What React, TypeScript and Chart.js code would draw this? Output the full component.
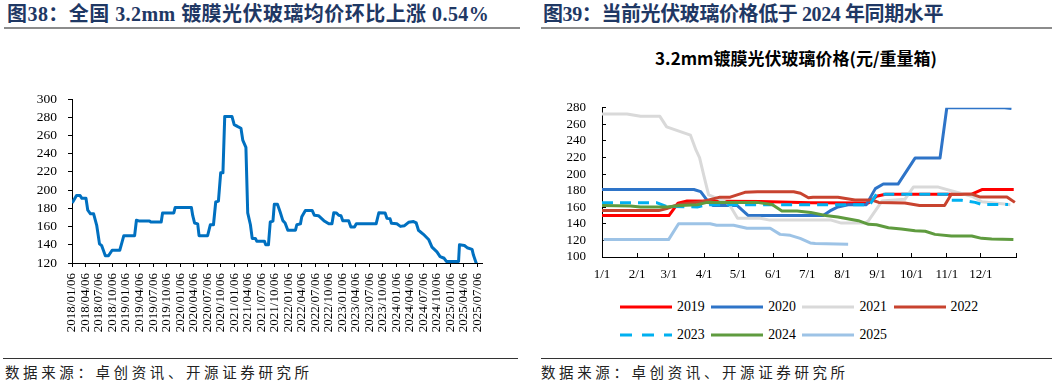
import React, { useEffect, useRef } from "react";
import { Chart, registerables } from "chart.js";

Chart.register(...registerables);

// ---------- Left chart: national avg price of 3.2mm coated PV glass ----------
// x = months elapsed since 2018/01/06
const histMonths = [
  0, 0.3, 1.0, 1.8, 2.2, 3.1, 3.5, 4.1, 4.8, 5.5, 6.1, 6.6, 7.4, 8.1, 8.9, 10.6, 11.0, 11.5, 13.9, 14.3,
  15.0, 17.2, 17.5, 19.8, 20.1, 22.6, 22.9, 26.5, 26.8, 27.2, 27.9, 28.2, 30.1, 30.7, 31.4, 31.9, 32.5, 33.0, 33.5, 33.9,
  35.5, 36.0, 36.7, 37.5, 37.9, 38.6, 39.0, 39.6, 40.0, 40.7, 41.0, 42.7, 43.0, 43.6, 44.0, 44.6, 44.9, 45.6, 46.2, 46.8,
  47.3, 47.9, 49.6, 49.9, 50.7, 51.0, 51.8, 53.3, 53.8, 54.7, 55.9, 57.0, 57.7, 58.1, 58.7, 59.2, 59.7, 60.1, 61.4, 61.9,
  62.7, 63.1, 67.5, 68.1, 69.5, 69.9, 70.6, 70.9, 72.1, 72.9, 73.8, 74.7, 75.8, 76.4, 76.9, 78.0, 79.2, 79.9, 81.0, 81.7,
  82.6, 83.1, 85.8, 86.0, 87.1, 87.7, 88.8, 89.1, 89.7, 90.2,
];
const histPrices = [
  186, 188, 194, 194, 191, 191, 178, 174, 174, 161, 141, 139, 128, 128, 134, 134, 141, 150, 150, 167,
  166, 166, 165, 165, 175, 175, 181, 181, 172, 164, 163, 150, 150, 162, 162, 187, 188, 219, 219, 281,
  281, 272, 270, 268, 255, 247, 175, 162, 147, 147, 144, 144, 140, 140, 165, 166, 184.5, 184.5, 176, 166.5,
  164, 156, 156, 162, 163, 170.7, 177.7, 177.7, 172.4, 172, 166.5, 163, 163, 175.2, 175, 172.4, 172, 166.5, 166.5, 159.5,
  159.5, 163, 163, 175.2, 175, 169, 168.5, 163.7, 163, 160.2, 161, 164.7, 165.5, 164, 156, 151.5, 145.5, 137.5, 132.2, 127,
  125.2, 121.7, 121.7, 140, 139.2, 136.8, 135, 128.7, 120, 116,
];
const histTickMonths = [
  0, 3, 6, 9, 12, 15, 18, 21, 24, 27, 30, 33, 36, 39, 42, 45, 48, 51, 54, 57, 60, 63, 66, 69, 72, 75, 78, 81, 84, 87, 90,
];
const histTickLabels = [
  "2018/01/06", "2018/04/06", "2018/07/06", "2018/10/06",
  "2019/01/06", "2019/04/06", "2019/07/06", "2019/10/06",
  "2020/01/06", "2020/04/06", "2020/07/06", "2020/10/06",
  "2021/01/06", "2021/04/06", "2021/07/06", "2021/10/06",
  "2022/01/06", "2022/04/06", "2022/07/06", "2022/10/06",
  "2023/01/06", "2023/04/06", "2023/07/06", "2023/10/06",
  "2024/01/06", "2024/04/06", "2024/07/06", "2024/10/06",
  "2025/01/06", "2025/04/06", "2025/07/06",
];

// ---------- Right chart: seasonal comparison (x = day of year) ----------
const monthStartDays = [0, 31, 59, 90, 120, 151, 181, 212, 243, 273, 304, 334, 365];
const monthTickLabels = ["1/1", "2/1", "3/1", "4/1", "5/1", "6/1", "7/1", "8/1", "9/1", "10/1", "11/1", "12/1", ""];

const years = ["2019", "2020", "2021", "2022", "2023", "2024", "2025"];

const days2019 = [0, 59, 67, 75, 140, 184, 235, 242, 250, 326, 335, 363];
const price2019 = [150, 150, 165, 167.5, 167, 165.5, 165.2, 173.3, 175.8, 175.8, 181.4, 181.4];

const days2020 = [0, 81, 87, 94, 98, 119, 129, 195, 201, 208, 217, 233, 241, 248, 261, 276, 298, 304, 355, 361];
const price2020 = [181.4, 181.4, 178.8, 166, 162.2, 162.2, 150, 150, 155.6, 160.4, 163, 163, 182.5, 188, 188, 219.3, 219.3, 280, 280, 279];

const days2021 = [0, 22, 34, 51, 57, 78, 83, 86, 90, 94, 104, 112, 119.5, 139.5, 148, 202, 211, 232, 235, 247, 267, 274.5, 296.6, 311, 326, 335, 355, 360];
const price2021 = [272.6, 272.6, 269.7, 269.7, 257, 247, 228.6, 220, 197, 175, 169.6, 164, 146.8, 146.8, 144.5, 144.5, 140.9, 140.9, 143.8, 167.7, 169.6, 184.3, 184.3, 178.8, 173.3, 166.6, 164, 163];

const days2022 = [0, 50, 57, 67.5, 88, 104, 113, 126, 137, 169, 175, 182, 186, 208, 223, 238, 244, 267, 280, 302, 308, 326, 333, 357, 364];
const price2022 = [156, 156, 158.5, 163.3, 166.6, 172.2, 172.2, 178, 178.8, 178.8, 177, 171.4, 172.2, 172.2, 168.8, 168.8, 165.9, 165.2, 162.2, 162.2, 175.8, 175.8, 172.5, 172.5, 165.9];

const days2023 = [0, 48, 57, 84, 92.5, 236, 242, 305, 308, 317, 329, 335, 358];
const price2023 = [165.5, 165.5, 161, 160.4, 163, 163, 175.8, 175.8, 168.5, 168.5, 165.9, 163.3, 163.3];

const days2024 = [0, 25, 34, 57, 69, 84, 92.5, 136.6, 150, 158.6, 172, 184, 197, 208, 226, 235, 242, 252.5, 264, 276, 285, 293.6, 308, 326, 334.7, 343.6, 362.7];
const price2024 = [162.2, 161.5, 160.4, 160.4, 162.2, 163, 165.9, 165.9, 163.3, 155.6, 155.6, 153.8, 150, 148.2, 143.8, 139.4, 139, 135.3, 133.9, 131.7, 131, 127.3, 125.4, 125.4, 122.5, 121.7, 121];

const days2025 = [1.5, 58.7, 67.5, 95.4, 101, 116, 127.8, 148.3, 157, 166, 174.7, 183.6, 188, 217];
const price2025 = [121, 121, 140.1, 140.1, 138.3, 138.3, 134.6, 134.6, 127.3, 126.1, 122.5, 117, 116.2, 115.5];

const yearDays = [days2019, days2020, days2021, days2022, days2023, days2024, days2025];
const yearPrices = [price2019, price2020, price2021, price2022, price2023, price2024, price2025];

const yearColors = ["#FF0000", "#2E74C8", "#D9D9D9", "#C8432F", "#00B0F0", "#5F9B3F", "#9DC3E6"];
const yearDash: number[][] = [[], [], [], [], [11, 7], [], []];

const SERIF = "'Times New Roman', 'Liberation Serif', serif";
const CJK = "'Noto Sans CJK SC', sans-serif";
const TITLE_FONT = "'Times New Roman', 'Liberation Serif', 'Noto Sans CJK SC', serif";

function LeftChart() {
  const ref = useRef<HTMLCanvasElement>(null);
  useEffect(() => {
    if (!ref.current) return;
    const chart = new Chart(ref.current, {
      type: "line",
      data: {
        datasets: [
          {
            data: histMonths.map((m, i) => ({ x: m, y: histPrices[i] })),
            borderColor: "#0070C0",
            borderWidth: 3,
            pointRadius: 0,
            tension: 0,
            fill: false,
            borderJoinStyle: "round",
          },
        ],
      },
      options: {
        animation: false,
        responsive: false,
        plugins: { legend: { display: false }, tooltip: { enabled: false } },
        layout: { padding: { top: 12, right: 48, bottom: 0, left: 0 } },
        scales: {
          x: {
            type: "linear",
            min: 0,
            max: 91,
            afterBuildTicks: (s: any) => {
              s.ticks = histTickMonths.map((v) => ({ value: v }));
            },
            afterFit: (s: any) => {
              s.height = 82;
            },
            ticks: {
              autoSkip: false,
              minRotation: 90,
              maxRotation: 90,
              padding: 6,
              color: "#000",
              font: { family: SERIF, size: 13 },
              callback: (_v: any, i: number) => histTickLabels[i],
            },
            grid: { drawOnChartArea: false, drawTicks: true, tickLength: 4, color: "#000" },
            border: { color: "#000", width: 1 },
          },
          y: {
            min: 120,
            max: 300,
            afterFit: (s: any) => {
              s.width = 72;
            },
            ticks: {
              stepSize: 20,
              autoSkip: false,
              padding: 11,
              color: "#000",
              font: { family: SERIF, size: 13.5 },
            },
            grid: { drawOnChartArea: false, drawTicks: true, tickLength: 4, color: "#000" },
            border: { color: "#000", width: 1 },
          },
        },
      },
    } as any);
    return () => chart.destroy();
  }, []);
  return (
    <canvas
      ref={ref}
      width={530}
      height={265}
      style={{ position: "absolute", left: 0, top: 80, width: 530, height: 265 }}
    />
  );
}

function RightChart() {
  const ref = useRef<HTMLCanvasElement>(null);
  useEffect(() => {
    if (!ref.current) return;
    const chart = new Chart(ref.current, {
      type: "line",
      data: {
        datasets: years.map((y, i) => ({
          label: y,
          data: yearDays[i].map((d, j) => ({ x: d, y: yearPrices[i][j] })),
          borderColor: yearColors[i],
          borderWidth: 3,
          borderDash: yearDash[i],
          pointRadius: 0,
          tension: 0,
          fill: false,
          borderJoinStyle: "round",
          order: years.length - i,
        })),
      },
      options: {
        animation: false,
        responsive: false,
        plugins: { legend: { display: false }, tooltip: { enabled: false } },
        layout: { padding: { top: 13, right: 24, bottom: 0, left: 0 } },
        scales: {
          x: {
            type: "linear",
            min: 0,
            max: 365,
            afterBuildTicks: (s: any) => {
              s.ticks = monthStartDays.map((v) => ({ value: v }));
            },
            afterFit: (s: any) => {
              s.height = 33;
            },
            ticks: {
              autoSkip: false,
              maxRotation: 0,
              minRotation: 0,
              padding: 14,
              color: "#000",
              font: { family: SERIF, size: 13 },
              callback: (_v: any, i: number) => monthTickLabels[i],
            },
            grid: { drawOnChartArea: false, drawTicks: true, tickLength: -4, color: "#000" },
            border: { color: "#000", width: 1 },
          },
          y: {
            min: 100,
            max: 280,
            afterFit: (s: any) => {
              s.width = 42;
            },
            ticks: {
              stepSize: 20,
              autoSkip: false,
              padding: 20,
              color: "#000",
              font: { family: SERIF, size: 13 },
            },
            grid: { drawOnChartArea: false, drawTicks: true, tickLength: -4, color: "#000" },
            border: { color: "#000", width: 1 },
          },
        },
      },
    } as any);
    return () => chart.destroy();
  }, []);
  return (
    <canvas
      ref={ref}
      width={480}
      height={210}
      style={{ position: "absolute", left: 560, top: 80, width: 480, height: 210 }}
    />
  );
}

function Legend() {
  const rows = [[0, 1, 2, 3], [4, 5, 6]];
  return (
    <>
      {rows.map((row, r) => (
        <div
          key={r}
          style={{ position: "absolute", left: 620, top: 298 + r * 27.5, height: 18, display: "flex" }}
        >
          {row.map((i) => (
            <div key={i} style={{ width: 91.2, display: "flex", alignItems: "center", height: 18 }}>
              <svg width={52} height={6} style={{ display: "block" }}>
                <line
                  x1={0}
                  y1={3}
                  x2={52}
                  y2={3}
                  stroke={yearColors[i]}
                  strokeWidth={3}
                  strokeDasharray={yearDash[i].length ? "12 10" : undefined}
                />
              </svg>
              <span style={{ marginLeft: 5, fontFamily: SERIF, fontSize: 13.8, color: "#000", lineHeight: "18px" }}>
                {years[i]}
              </span>
            </div>
          ))}
        </div>
      ))}
    </>
  );
}

export default function App() {
  const titleStyle: React.CSSProperties = {
    position: "absolute",
    top: 2,
    fontFamily: TITLE_FONT,
    fontWeight: "bold",
    fontSize: 20,
    color: "#1F3864",
    whiteSpace: "nowrap",
    lineHeight: "24px",
  };
  const sourceStyle: React.CSSProperties = {
    position: "absolute",
    top: 362,
    fontFamily: CJK,
    fontSize: 14.5,
    letterSpacing: 3.6,
    color: "#222",
    whiteSpace: "nowrap",
    lineHeight: "20px",
  };
  return (
    <div
      style={{
        position: "absolute",
        left: 0,
        top: 0,
        width: 1057,
        height: 385,
        background: "#fff",
        overflow: "hidden",
      }}
    >
      <div style={{ ...titleStyle, left: 7, letterSpacing: 0.45 }}>
        图38：全国 3.2mm 镀膜光伏玻璃均价环比上涨 0.54%
      </div>
      <div style={{ ...titleStyle, left: 543, letterSpacing: -0.4 }}>
        图39：当前光伏玻璃价格低于 2024 年同期水平
      </div>
      <div style={{ position: "absolute", left: 4, top: 27, width: 516, height: 2, background: "#8C8C8C" }} />
      <div style={{ position: "absolute", left: 541, top: 27, width: 511, height: 2, background: "#8C8C8C" }} />

      <LeftChart />

      <div
        style={{
          position: "absolute",
          left: 646,
          top: 46,
          width: 300,
          textAlign: "center",
          fontFamily: CJK,
          fontWeight: "bold",
          fontSize: 17,
          color: "#000",
          lineHeight: "24px",
          whiteSpace: "nowrap",
        }}
      >
        3.2mm镀膜光伏玻璃价格(元/重量箱)
      </div>
      <RightChart />
      <Legend />

      <div style={{ position: "absolute", left: 3, top: 358, width: 515, height: 1, background: "#333" }} />
      <div style={{ position: "absolute", left: 541, top: 358, width: 511, height: 1, background: "#333" }} />
      <div style={{ ...sourceStyle, left: 5 }}>数据来源：卓创资讯、开源证券研究所</div>
      <div style={{ ...sourceStyle, left: 541 }}>数据来源：卓创资讯、开源证券研究所</div>
    </div>
  );
}
